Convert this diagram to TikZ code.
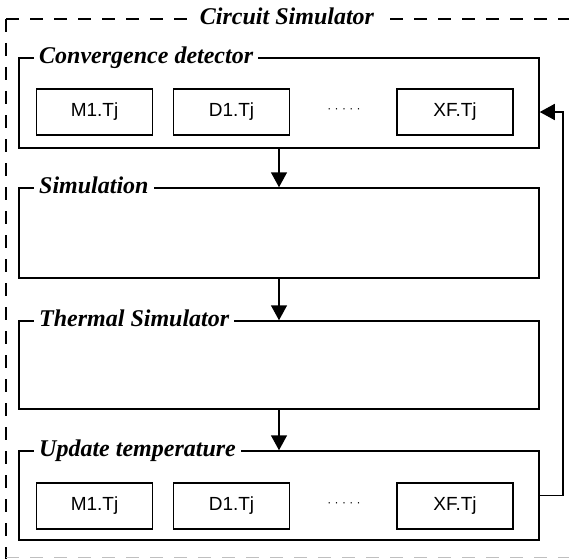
\documentclass[tikz,border=0pt]{standalone}
\usepackage{fontspec}
\setmainfont{Liberation Serif}
\newfontfamily\arialfont{Liberation Sans}
\usetikzlibrary{positioning,calc,arrows.meta}

\begin{document}
\begin{tikzpicture}[x=1pt, y=-1pt,
stage/.style={draw, line width=1.5pt, minimum width=520pt, inner sep=0pt},
cell/.style={draw, line width=1.4pt, minimum width=116pt, minimum height=46pt, inner sep=0pt, font=\arialfont\fontsize{19}{19}\selectfont},
title/.style={fill=white, anchor=west, inner xsep=5pt, inner ysep=0pt, text height=16pt, text depth=5pt, font=\fontsize{24}{24}\selectfont\bfseries\itshape},
flow/.style={line width=1.5pt, -{Triangle[length=15pt,width=16pt]}},
frame/.style={line width=1.5pt, dash pattern=on 13pt off 11pt}]

\useasboundingbox (0,0) rectangle (569,559);

% outer dashed frame
\draw[frame] (6,19) -- (569,19);
\draw[frame] (6,19) -- (6,559);
\draw[frame, gray!50] (6,557.5) -- (569,557.5);
\node[title, anchor=center] (circ) at (287,19) {Circuit Simulator};

% stages
\node[stage, minimum height=90pt] (conv) at (279,103) {};
\node[stage, minimum height=90pt] (sim)  at (279,233) {};
\node[stage, minimum height=88pt] (therm) at (279,365) {};
\node[stage, minimum height=89pt] (upd)  at (279,495.5) {};

\node[title] (convt)  at (34,58)  {Convergence detector};
\node[title] (simt)   at (34,188) {Simulation};
\node[title] (thermt) at (34,321) {Thermal Simulator};
\node[title] (updt)   at (34,451) {Update temperature};

% junction temperatures
\node[cell] (m1a) at (94.5,112)  {M1.Tj};
\node[cell] (d1a) at (231.5,112) {D1.Tj};
\node[font=\arialfont\fontsize{12}{12}\selectfont] (dota) at (344,111) {· · · · ·};
\node[cell] (xfa) at (455,112)   {XF.Tj};

\node[cell] (m1b) at (94.5,506)  {M1.Tj};
\node[cell] (d1b) at (231.5,506) {D1.Tj};
\node[font=\arialfont\fontsize{12}{12}\selectfont] (dotb) at (344,505) {· · · · ·};
\node[cell] (xfb) at (455,506)   {XF.Tj};

% flow
\draw[flow] (conv.south) -- (sim.north);
\draw[flow] (sim.south) -- (therm.north);
\draw[flow] (therm.south) -- (upd.north);

\coordinate (back) at (563,0);
\draw[flow] (upd.east) -- (upd.east -| back) -- (back |- xfa.east) -- (conv.east |- xfa.east);

\end{tikzpicture}
\end{document}
